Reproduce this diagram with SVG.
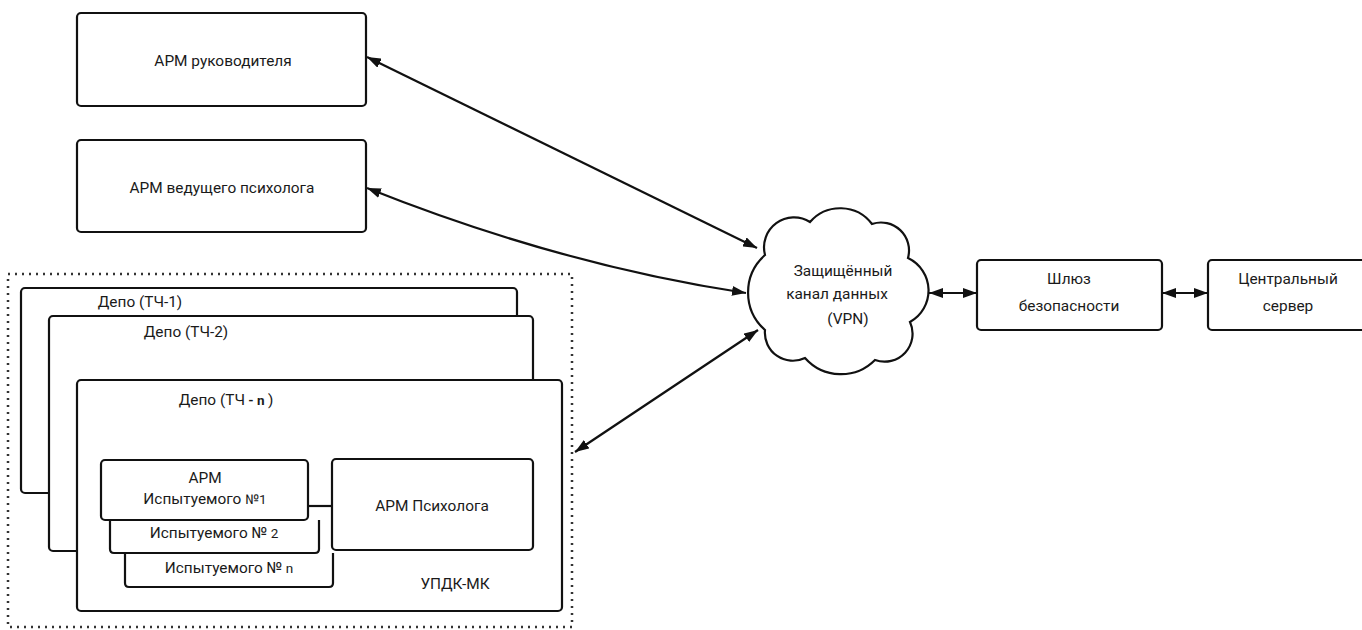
<svg xmlns="http://www.w3.org/2000/svg" width="1362" height="630" viewBox="0 0 1362 630">
<defs>
<style>
.box{fill:#fff;stroke:#111;stroke-width:2.2}
.open{fill:#fff;stroke:#111;stroke-width:2.2}
.t{font-family:Roboto,"Liberation Sans",Arial,sans-serif;font-size:15.4px;fill:#1a1a1a;text-anchor:middle}
.c{fill:none;stroke:#111;stroke-width:2.2}
.dot{fill:none;stroke:#333;stroke-width:2.5;stroke-dasharray:2 5}
</style>
<marker id="ah" viewBox="0 0 14 10" refX="14" refY="5" markerWidth="14" markerHeight="10" markerUnits="userSpaceOnUse" orient="auto-start-reverse">
<path d="M0,0 L14,5 L0,10 z" fill="#111"/>
</marker>
</defs>
<rect width="1362" height="630" fill="#fff"/>

<g id="arm-head">
<rect class="box" x="77" y="13" width="289" height="93" rx="4"/>
<text class="t" x="223" y="66">АРМ руководителя</text>
</g>
<g id="arm-lead">
<rect class="box" x="77" y="140" width="289" height="92" rx="4"/>
<text class="t" x="222" y="193">АРМ ведущего психолога</text>
</g>

<g id="depot-group">
<rect class="dot" x="8" y="274" width="564" height="353"/>
</g>
<g id="depot-1">
<rect class="box" x="21" y="288" width="496" height="205" rx="4"/>
<text class="t" x="140" y="307">Депо (ТЧ-1)</text>
</g>
<g id="depot-2">
<rect class="box" x="49" y="316" width="484" height="235" rx="4"/>
<text class="t" x="186" y="337">Депо (ТЧ-2)</text>
</g>
<g id="depot-n">
<rect class="box" x="77" y="380" width="485" height="231" rx="4"/>
<text class="t" x="226" y="405">Депо (ТЧ<tspan font-size="13.5" font-weight="bold"> - n </tspan>)</text>
<text class="t" x="455" y="589">УПДК-МК</text>
</g>
<g id="test-n">
<path class="open" d="M125,553 V583 Q125,587 129,587 H329 Q333,587 333,583 V553"/>
<text class="t" x="229" y="573">Испытуемого №<tspan font-size="13.5"> n</tspan></text>
</g>
<g id="test-2">
<path class="open" d="M110,520 V549 Q110,553 114,553 H315 Q319,553 319,549 V520"/>
<text class="t" x="214" y="538">Испытуемого №<tspan font-size="13.5"> 2</tspan></text>
</g>
<g id="test-1">
<rect class="box" x="101" y="460" width="207" height="60" rx="4"/>
<text class="t" x="205" y="483">АРМ</text>
<text class="t" x="205" y="504">Испытуемого <tspan font-size="13.5">№1</tspan></text>
</g>
<g id="arm-psych">
<rect class="box" x="332" y="459" width="201" height="91" rx="4"/>
<text class="t" x="432" y="511">АРМ Психолога</text>
</g>

<g id="vpn">
<path class="box" d="M765,255 A30,30 0 0 1 810,222 A40,40 0 0 1 872,224 A28,28 0 0 1 908,258 A36,36 0 0 1 910,322 A28,28 0 0 1 875,360 A48,48 0 0 1 805,358 A28,28 0 0 1 765,330 A50,50 0 0 1 765,255 Z"/>
<text class="t" x="843" y="276">Защищённый</text>
<text class="t" x="837" y="299">канал данных</text>
<text class="t" x="848" y="324">(VPN)</text>
</g>
<g id="gateway">
<rect class="box" x="977" y="260" width="185" height="70" rx="4"/>
<text class="t" x="1069" y="284">Шлюз</text>
<text class="t" x="1069" y="311">безопасности</text>
</g>
<g id="server">
<rect class="box" x="1208" y="260" width="160" height="70" rx="4"/>
<text class="t" x="1288" y="284">Центральный</text>
<text class="t" x="1288" y="311">сервер</text>
</g>
<g id="links">
<line class="c" x1="308" y1="506" x2="332" y2="506"/>
</g>

<g id="connectors">
<line class="c" x1="367" y1="57" x2="757" y2="248" marker-start="url(#ah)" marker-end="url(#ah)"/>
<path class="c" d="M367,188 Q560,265 746,293" marker-start="url(#ah)" marker-end="url(#ah)"/>
<line class="c" x1="575" y1="452" x2="758" y2="330" marker-start="url(#ah)" marker-end="url(#ah)"/>
<line class="c" x1="929" y1="293" x2="977" y2="293" marker-start="url(#ah)" marker-end="url(#ah)"/>
<line class="c" x1="1162" y1="293" x2="1208" y2="293" marker-start="url(#ah)" marker-end="url(#ah)"/>
</g>
</svg>
